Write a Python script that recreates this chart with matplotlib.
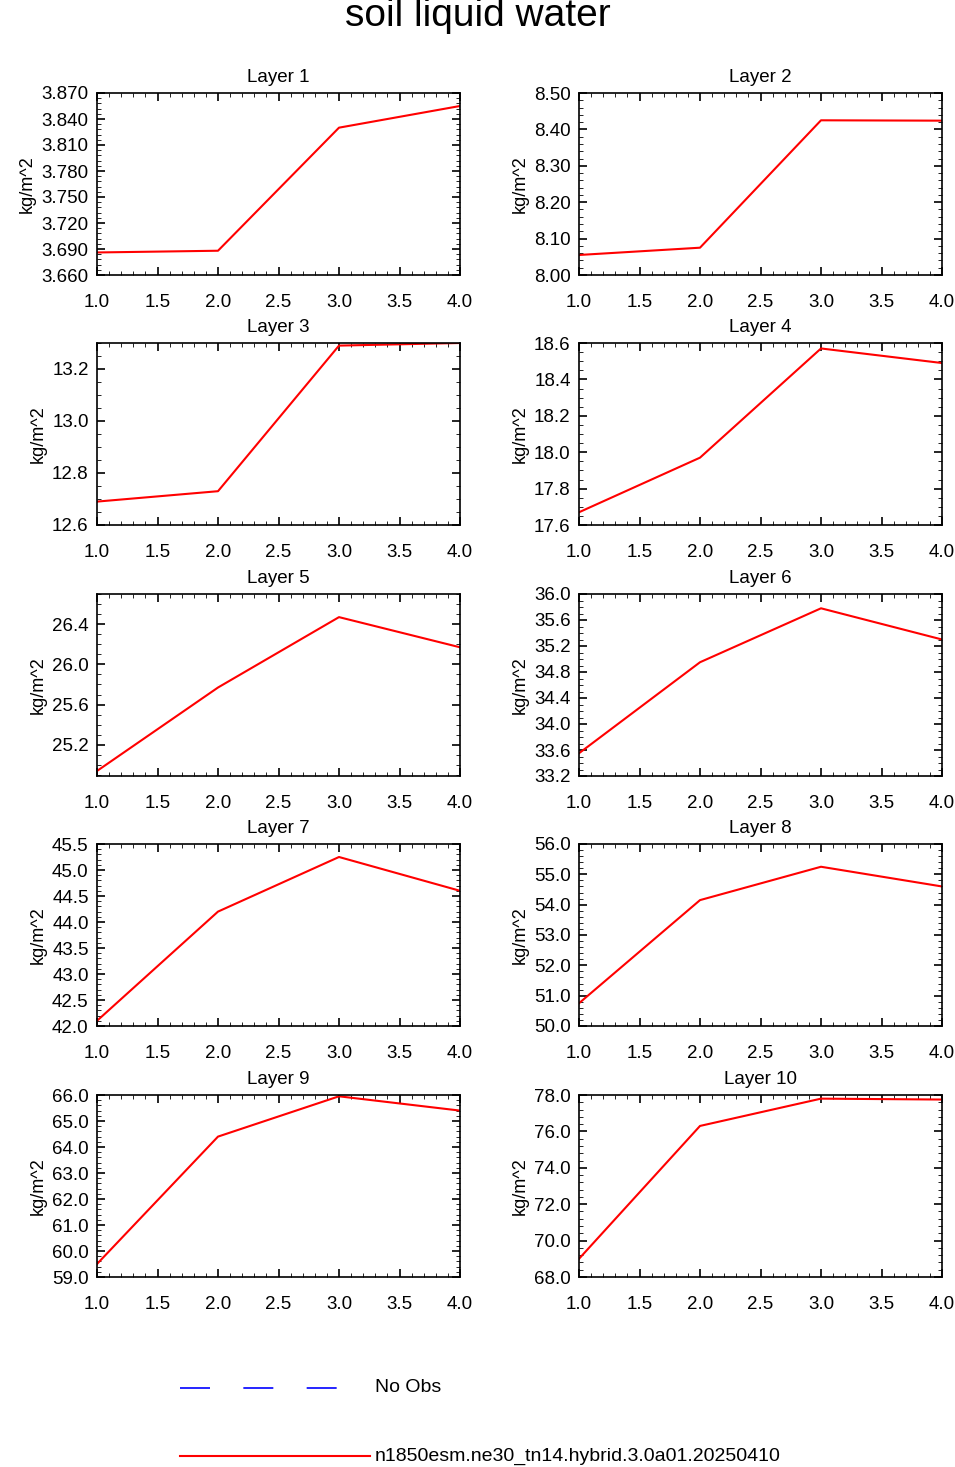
import matplotlib
matplotlib.use("Agg")
import matplotlib.pyplot as plt
from matplotlib.ticker import MultipleLocator, FormatStrFormatter

plt.rcParams['font.family'] = ['Liberation Sans', 'DejaVu Sans']

x = [1.0, 2.0, 3.0, 4.0]
titles = [f"Layer {i}" for i in range(1, 11)]
values = [
    [3.686, 3.688, 3.830, 3.855],
    [8.055, 8.075, 8.425, 8.424],
    [12.69, 12.73, 13.29, 13.30],
    [17.67, 17.97, 18.57, 18.49],
    [24.94, 25.77, 26.47, 26.17],
    [33.55, 34.95, 35.78, 35.30],
    [42.10, 44.20, 45.25, 44.60],
    [50.75, 54.15, 55.25, 54.60],
    [59.50, 64.40, 65.95, 65.40],
    [69.00, 76.30, 77.80, 77.75],
]
ylims = [(3.660, 3.870), (8.00, 8.50), (12.6, 13.3), (17.6, 18.6), (24.89, 26.7),
         (33.2, 36.0), (42.0, 45.5), (50.0, 56.0), (59.0, 66.0), (68.0, 78.0)]
major = [0.030, 0.10, 0.2, 0.2, 0.4, 0.4, 0.5, 1.0, 1.0, 2.0]
minor = [0.006, 0.02, 0.05, 0.05, 0.1, 0.1, 0.1, 0.2, 0.2, 0.4]
fmts = ["%.3f", "%.2f", "%.1f", "%.1f", "%.1f", "%.1f", "%.1f", "%.1f", "%.1f", "%.1f"]

W, H = 955, 1467
fig = plt.figure(figsize=(W/100, H/100), dpi=100)
lefts = [97, 579]
tops = [93, 343, 594, 844, 1095]
pw, ph = 363, 182
for i in range(10):
    r, c = divmod(i, 2)
    ax = fig.add_axes([lefts[c]/W, 1-(tops[r]+ph)/H, pw/W, ph/H])
    ax.plot(x, values[i], color='red', lw=1.5)
    ax.set_xlim(1.0, 4.0)
    ax.set_ylim(*ylims[i])
    ax.xaxis.set_major_locator(MultipleLocator(0.5))
    ax.xaxis.set_minor_locator(MultipleLocator(0.1))
    ax.yaxis.set_major_locator(MultipleLocator(major[i]))
    ax.yaxis.set_minor_locator(MultipleLocator(minor[i]))
    ax.xaxis.set_major_formatter(FormatStrFormatter("%.1f"))
    ax.yaxis.set_major_formatter(FormatStrFormatter(fmts[i]))
    ax.tick_params(which='both', direction='in', top=True, right=True, labelsize=13.5)
    ax.tick_params(which='major', length=6, width=1.2)
    ax.tick_params(which='minor', length=3)
    ax.tick_params(axis='x', pad=14)
    ax.tick_params(axis='y', pad=6)
    for s in ax.spines.values():
        s.set_linewidth(1.2)
    ax.set_title(titles[i], fontsize=13.5, pad=8)
    ax.set_ylabel("kg/m^2", fontsize=13)

fig.text(0.5, 1-16/H, "soil liquid water", ha='center', va='center', fontsize=28)
lax = fig.add_axes([0, 0, 1, 1]); lax.set_axis_off()
lax.set_xlim(0, W); lax.set_ylim(H, 0)
lax.plot([180, 370], [1388, 1388], color='blue', lw=1.2, dashes=(18, 20))
lax.text(375, 1388, "No Obs", va='center', fontsize=14)
lax.plot([180, 370], [1456, 1456], color='red', lw=1.5)
lax.text(375, 1456, "n1850esm.ne30_tn14.hybrid.3.0a01.20250410", va='center', fontsize=14)
fig.savefig("out.png", dpi=100)
